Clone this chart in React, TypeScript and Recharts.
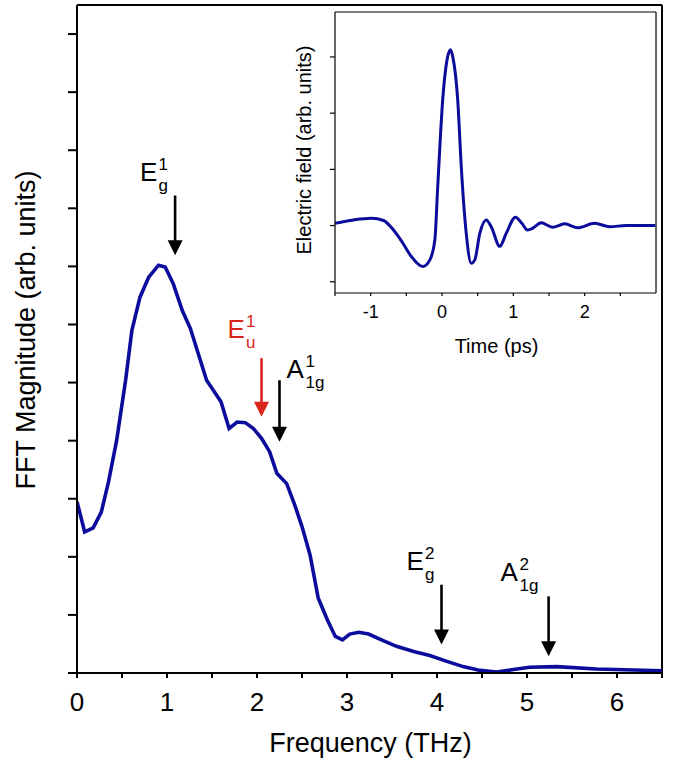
// THz emission: FFT magnitude spectrum with time-domain waveform inset
import { LineChart, Line, XAxis, YAxis, ReferenceLine, Label } from "recharts";

const FONT = "'Liberation Sans', Arial, sans-serif";
const BLUE = "#0c0c9c";
const RED = "#d9261a";

// main spectrum (THz, arb. units)
const freq = [
  0, 0.085, 0.18, 0.27, 0.35, 0.44, 0.54, 0.61, 0.7, 0.795, 0.906, 0.98, 1.07, 1.17, 1.26,
  1.44, 1.6, 1.69, 1.78, 1.87, 1.96, 2.05, 2.14, 2.22, 2.33, 2.42, 2.5, 2.59, 2.68, 2.78,
  2.87, 2.95, 3.03, 3.13, 3.24, 3.37, 3.55, 3.74, 3.92, 4.11, 4.29, 4.48, 4.66, 4.85, 5.03,
  5.33, 5.77, 6.5,
];
const magnitude = [
  2.95, 2.43, 2.5, 2.77, 3.29, 4.0, 5.04, 5.9, 6.47, 6.81, 7.02, 6.99, 6.7, 6.24, 5.93,
  5.04, 4.67, 4.21, 4.32, 4.31, 4.21, 4.04, 3.81, 3.44, 3.26, 2.89, 2.52, 2.03, 1.29, 0.92,
  0.63, 0.57, 0.67, 0.7, 0.67, 0.58, 0.46, 0.37, 0.3, 0.2, 0.11, 0.045, 0.017, 0.06, 0.1,
  0.11, 0.07, 0.04,
];

// inset waveform (ps, arb. units)
const time = [
  -1.5, -1.24, -0.99, -0.82, -0.68, -0.55, -0.43, -0.27, -0.17, -0.1, -0.06, 0.01, 0.08,
  0.12, 0.15, 0.22, 0.27, 0.34, 0.41, 0.46, 0.53, 0.62, 0.69, 0.81, 0.9, 1.03, 1.12, 1.2,
  1.27, 1.39, 1.55, 1.72, 1.9, 2.14, 2.35, 2.58, 2.99,
];
const field = [
  0.04, 0.1, 0.13, 0.09, -0.08, -0.31, -0.55, -0.73, -0.61, -0.25, 0.69, 2.24, 3.01, 3.13,
  3.01, 2.24, 1.05, -0.14, -0.67, -0.61, -0.14, 0.1, -0.02, -0.37, -0.14, 0.15, 0.04, -0.08,
  -0.05, 0.05, -0.03, 0.03, -0.04, 0.04, -0.02, 0, 0,
];

// phonon mode markers
const modeBase = ["E", "E", "A", "E", "A"];
const modeSub = ["g", "u", "1g", "g", "1g"];
const modeSup = ["1", "1", "1", "2", "2"];
const modeFreq = [1.09, 2.05, 2.25, 4.05, 5.24];
const arrowTop = [8.22, 5.42, 5.04, 1.52, 1.32];
const arrowTip = [7.19, 4.41, 3.98, 0.49, 0.29];
const modeColor = ["#000", RED, "#000", "#000", "#000"];
// label offset (left, baseline) from arrow top, px
const labelOffset = [
  [-35, -15],
  [-34, -20],
  [7, -2],
  [-35, -15],
  [-48, -15],
];

const mainTicksX = [0, 0.5, 1, 1.5, 2, 2.5, 3, 3.5, 4, 4.5, 5, 5.5, 6, 6.5];
const mainTicksY = [0, 1, 2, 3, 4, 5, 6, 7, 8, 9, 10, 11];
const insetTicksX = [-1.5, -1, -0.5, 0, 0.5, 1, 1.5, 2, 2.5];
const insetTicksY = [-1, 0, 1, 2, 3];

const spectrum = freq.map((f, i) => ({ f, m: magnitude[i] }));
const waveform = time.map((t, i) => ({ t, e: field[i] }));

const intOnly = (v: number) => (Number.isInteger(v) ? String(v) : "");

function Arrow(props: any) {
  const { x1, y1, y2, idx } = props;
  const c = modeColor[idx];
  const [dx, dy] = labelOffset[idx];
  const top = Math.min(y1, y2);
  const tip = Math.max(y1, y2);
  const bx = x1 + dx;
  const by = top + dy;
  const baseW = modeBase[idx] === "A" ? 18 : 17.5;
  return (
    <g>
      <line x1={x1} x2={x1} y1={top} y2={tip - 14} stroke={c} strokeWidth={2.6} />
      <polygon points={`${x1 - 7.5},${tip - 15} ${x1 + 7.5},${tip - 15} ${x1},${tip}`} fill={c} />
      <text x={bx} y={by} fontSize={26} fill={c} fontFamily={FONT}>
        {modeBase[idx]}
      </text>
      <text x={bx + baseW + 1} y={by - 11} fontSize={17} fill={c} fontFamily={FONT}>
        {modeSup[idx]}
      </text>
      <text x={bx + baseW + 1} y={by + 10} fontSize={17} fill={c} fontFamily={FONT}>
        {modeSub[idx]}
      </text>
    </g>
  );
}

export default function App() {
  return (
    <div style={{ position: "absolute", left: 0, top: 0, width: 676, height: 763, background: "#fff" }}>
      <LineChart
        width={676}
        height={763}
        data={spectrum}
        margin={{ top: 5, right: 14, bottom: 0, left: 0 }}
      >
        <XAxis
          dataKey="f"
          type="number"
          domain={[0, 6.5]}
          ticks={mainTicksX}
          tickFormatter={intOnly}
          height={90}
          stroke="#000"
          strokeWidth={2}
          tickSize={5}
          tickMargin={15}
          tick={{ fontSize: 26, fill: "#000", fontFamily: FONT }}
          allowDataOverflow
        >
          <Label
            content={(p: any) => {
              const vb = p.viewBox || {};
              return (
                <text x={vb.x + vb.width / 2 + 1} y={752} textAnchor="middle" fontSize={27} fontFamily={FONT} fill="#000">
                  Frequency (THz)
                </text>
              );
            }}
          />
        </XAxis>
        <YAxis
          type="number"
          domain={[0, 11.5]}
          ticks={mainTicksY}
          tickFormatter={() => ""}
          width={77}
          stroke="#000"
          strokeWidth={2}
          tickSize={9}
          allowDataOverflow
        >
          <Label
            content={(p: any) => {
              const vb = p.viewBox || {};
              const cy = vb.y + vb.height / 2 - 9;
              return (
                <text x={35} y={cy} transform={`rotate(-90, 35, ${cy})`} textAnchor="middle" fontSize={27} fontFamily={FONT} fill="#000">
                  FFT Magnitude (arb. units)
                </text>
              );
            }}
          />
        </YAxis>
        <ReferenceLine y={11.5} stroke="#000" strokeWidth={2} />
        <ReferenceLine x={6.5} stroke="#000" strokeWidth={2} />
        <Line dataKey="m" type="linear" stroke={BLUE} strokeWidth={3.6} dot={false} isAnimationActive={false} />
        {modeFreq.map((f, i) => (
          <ReferenceLine
            key={i}
            segment={[
              { x: f, y: arrowTop[i] },
              { x: f, y: arrowTip[i] },
            ]}
            ifOverflow="visible"
            shape={(p: any) => <Arrow {...p} idx={i} />}
          />
        ))}
      </LineChart>

      <div style={{ position: "absolute", left: 290, top: 0, width: 376, height: 370 }}>
        <LineChart
          width={376}
          height={370}
          data={waveform}
          margin={{ top: 12, right: 10, bottom: 0, left: 0 }}
        >
          <XAxis
            dataKey="t"
            type="number"
            domain={[-1.5, 3]}
            ticks={insetTicksX}
            tickFormatter={intOnly}
            height={77}
            stroke="#000"
            strokeWidth={1.2}
            tickSize={3}
            tickMargin={9}
            tick={{ fontSize: 18, fill: "#000", fontFamily: FONT }}
            allowDataOverflow
          >
            <Label
              content={(p: any) => {
                const vb = p.viewBox || {};
                return (
                  <text x={vb.x + vb.width / 2 + 1} y={353} textAnchor="middle" fontSize={20} fontFamily={FONT} fill="#000">
                    Time (ps)
                  </text>
                );
              }}
            />
          </XAxis>
          <YAxis
            type="number"
            domain={[-1.2, 3.8]}
            ticks={insetTicksY}
            tickFormatter={() => ""}
            width={45}
            stroke="#000"
            strokeWidth={1.2}
            tickSize={5}
            allowDataOverflow
          >
            <Label
              content={() => (
                <text x={21} y={150} transform="rotate(-90, 21, 150)" textAnchor="middle" fontSize={20} fontFamily={FONT} fill="#000">
                  Electric field (arb. units)
                </text>
              )}
            />
          </YAxis>
          <ReferenceLine y={3.8} stroke="#000" strokeWidth={1.2} />
          <ReferenceLine x={3} stroke="#000" strokeWidth={1.2} />
          <Line dataKey="e" type="monotone" stroke={BLUE} strokeWidth={3} dot={false} isAnimationActive={false} />
        </LineChart>
      </div>
    </div>
  );
}
